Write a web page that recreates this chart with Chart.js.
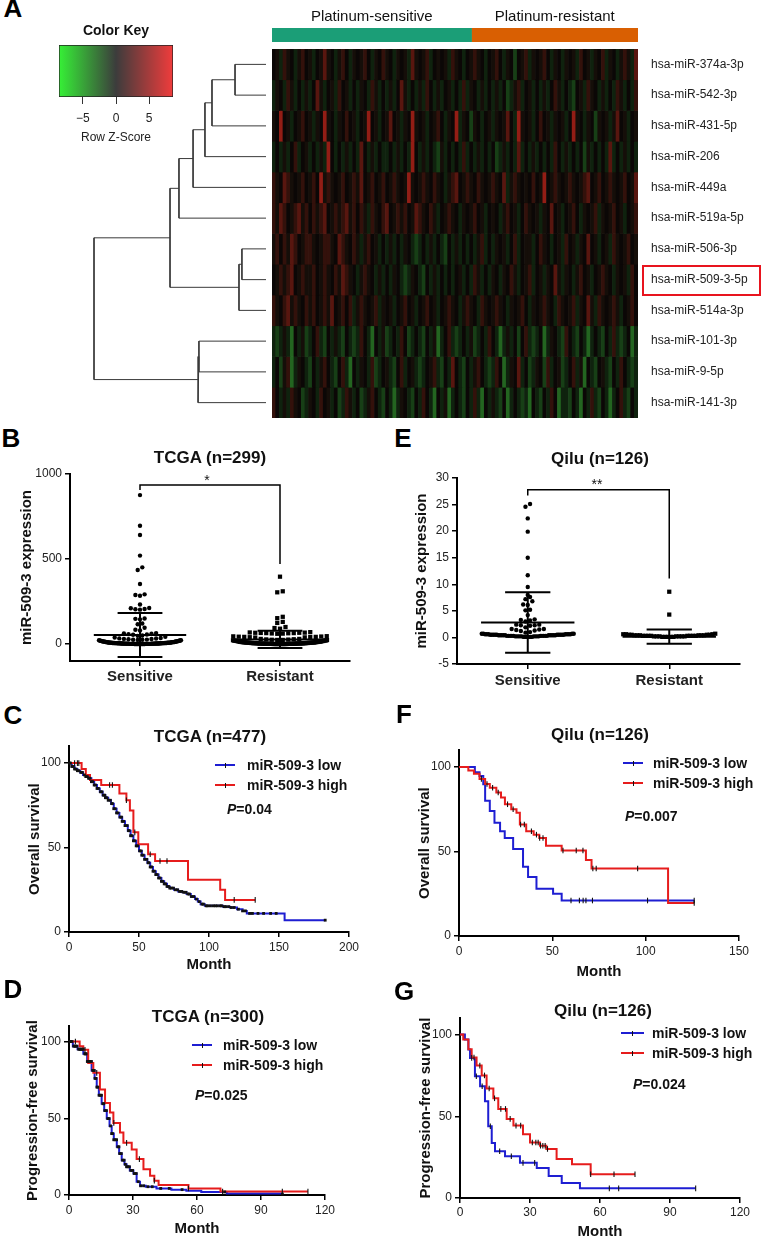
<!DOCTYPE html>
<html>
<head>
<meta charset="utf-8">
<script src="https://cdn.jsdelivr.net/npm/chart.js@4.4.1/dist/chart.umd.min.js"></script>
<style>
  html, body { margin: 0; padding: 0; background: #fff; }
  body { width: 766px; height: 1240px; position: relative; overflow: hidden; font-family: "Liberation Sans", Arial, sans-serif; color: #111; }
  canvas { position: absolute; }
  .t { position: absolute; white-space: nowrap; line-height: 1; }
  .bar { position: absolute; }
</style>
</head>
<body>
<script>
// ---------------- data ----------------

// A: heatmap
const mirnaNames = ['hsa-miR-374a-3p', 'hsa-miR-542-3p', 'hsa-miR-431-5p', 'hsa-miR-206', 'hsa-miR-449a',
  'hsa-miR-519a-5p', 'hsa-miR-506-3p', 'hsa-miR-509-3-5p', 'hsa-miR-514a-3p', 'hsa-miR-101-3p',
  'hsa-miR-9-5p', 'hsa-miR-141-3p'];
const highlightRow = 7;
const sampleGroups = ['Platinum-sensitive', 'Platinum-resistant'];
const groupSizes = [163, 136];
// one letter per sample column (k/0 dark, h/g/G green, r/q/R red)
const heatmapRows = [
  ['k0hr0kh0rk', '0hk0q0kh0r', 'kh0k0rkh0k', 'r0kh0k0hq0', 'k0rhk0k0hr', '0khk0r0khk', '0rkh0kgk0r', 'h0k0rkh0kh', '0k0hrk0h0k', 'rh0kh0r0hq'],
  ['h0khr0hkh0', 'hkq0hk0hrk', '0hkh0khr0h', 'kh0hkq0hkh', '0hrkh0hk0h', 'khrh0kh0hk', 'h0hkgh0rhk', '0hkh0hkr0h', 'khgk0hr0kh', '0hkhr0hkhr'],
  ['0kRk0hk0rk', '0h0kR0kh0k', 'rk0hk0Rk0h', 'k0qk0h0kR0', 'k0hk0rkh0k', 'Rh0kg0khk0', 'h0k0qkhR0k', '0hkrk0h0k0', 'hkR0kh0kg0', 'k0h0qk0hk0'],
  ['hkh0hkrhk0', 'hkh0hRkhkh', '0hkhqkh0hk', 'hhkh0hkhRk', 'h0hkhg0hkh', 'khrhkh0hkh', 'kgh0hkhqhk', 'h0hkhkhrkh', '0hkhkg0hkh', 'khqhkh0hkh'],
  ['r0kqr0k0rk', '0rkR0r0k0r', 'k0r0qk0rk0', 'rk0r0k0R0k', '0r0kr0kh0r', 'qk0r0kr0k0', 'r0kqh0r0k0', 'krk0Rk0r0k', '0r0k0rqk0r', 'k0r0k0rk0q'],
  ['r0qrk0rq0r', 'kr0rqk0r0r', 'q0rkr0hr0k', 'rqk0r0rk0q', 'r0kr0hk0r0', 'kh0k0rk0hk', '0kh0rk0hkr', '0k0h0kqk0h', 'k0rkh0k0rh', '0k0rk0hk0r'],
  ['0rkr0qrk0r', 'r0k0rr0kqr', '0kr0h0rk0h', 'kh0hkh0khg', 'hkh0hkhgkh', '0hkhkh0rhk', 'h0k0hkrhk0', '0hkr0khk0h', 'rk0h0kqk0h', 'k0hr0k0rk0'],
  ['k0r0rqk0r0', '0rk0r0kr0q', 'r0kh0r0kh0', 'hkh0khgh0k', 'hgkh0hkhkh', 'k0hkhr0hkh', '0kh0kr0hk0', 'rhk0h0kq0h', '0kh0rk0hk0', 'r0kh0k0hrk'],
  ['r0krq0r0kr', '0rk0r0qk0r', 'krh0r0k0rh', '0k0hk0rk0h', 'k0rk0hk0r0', 'kh0r0khr0k', '0r0kh0k0rk', 'h0k0r0khr0', 'k0rh0kq0hr', '0k0r0hk0rk'],
  ['hgh0hGkh0g', 'hkrhgkh0hg', 'khghrkhGkh', '0ghkhrkghk', 'hgkh0Ghkrh', 'ghkh0ghkhr', 'khGh0hkgkr', 'hghkGh0khg', 'rkhgkhGhkh', 'gkhrhghkGh'],
  ['hkg0rGh0kh', 'gkh0rkhgkr', 'hGkh0khrgh', 'k0hgkrhk0h', 'ghk0rhgkhq', 'khgkh0rkhg', 'hrkGh0kqhk', 'gh0kgrhk0g', 'hkrh0Gkhgk', '0hgkhrkhgh'],
  ['rkh0hr0kgh', '0khrk0hkgh', 'r0hkgh0rkh', 'gkhGh0khgk', 'hrkhGkh0Gh', 'khgkhrhGkh', '0hgkGhkhgh', 'GkhgkhrkGh', 'hgkhGkhrhg', 'khGhkrhgkh']
].map(r => r.join(''));
// hclust-style merge table (negative = leaf) and merge heights
const dendroMerge = [[-1, -2], [1, -3], [2, -4], [3, -5], [4, -6], [-7, -8], [6, -9], [5, 7], [-10, -11], [9, -12], [8, 10]];
const dendroHeight = [1.8, 3.14, 3.55, 4.24, 5.06, 1.4, 1.57, 5.58, 3.9, 3.95, 10];
const keyLimits = [-8.6, 8.6];
const keyTicks = [-5, 0, 5];

// B / E: expression dot plots
const exprGroups = ['Sensitive', 'Resistant'];
const tcgaSensitive = [876, 696, 641, 520, 451, 435, 353, 292, 288, 284, 232, 212, 210, 206, 204, 202, 150, 148, 145,
  121, 116, 96, 84, 80, 64, 62, 60, 58, 56, 54, 50, 48,
  0, 0, 0, 0, 0, 0, 0, 0, 0, 0, 1, 1, 1, 1, 1, 1, 1, 1, 1, 1, 2, 2, 2, 2, 2, 2, 2, 2, 3, 3,
  3, 3, 3, 3, 3, 4, 4, 4, 4, 4, 5, 5, 5, 5, 6, 6, 6, 6, 7, 7, 7, 8, 8, 8, 9, 9, 10, 10, 11, 11,
  12, 12, 13, 14, 15, 15, 16, 17, 18, 19, 20, 21, 22, 24, 25, 26, 28, 30, 32, 35,
  0, 0, 1, 1, 2, 2, 3, 4, 5, 6, 0, 1, 2, 3, 4, 5, 6, 8, 9, 11, 13, 15, 17, 19, 22, 25, 29, 33, 38, 42];
const tcgaResistant = [396, 310, 304, 160, 152, 130, 124, 100, 94, 90, 70, 68, 67, 66, 66, 65, 64, 64, 63, 62, 61, 60,
  46, 45, 44, 43, 42, 42, 41, 40, 39, 38,
  0, 0, 0, 0, 0, 0, 0, 0, 0, 0, 1, 1, 1, 1, 1, 1, 1, 1, 2, 2, 2, 2, 2, 2, 3, 3, 3, 3, 3, 4,
  4, 4, 4, 5, 5, 5, 5, 6, 6, 6, 7, 7, 8, 8, 9, 9, 10, 10, 11, 12, 12, 13, 14, 15, 16, 17, 18, 19, 20, 21,
  22, 23, 24, 25, 26, 28, 30, 0, 0, 1, 1, 2, 3, 4, 5, 6, 7, 8, 9, 10, 11, 13, 15, 18, 20, 24, 27, 30];
const tcgaMean = [53, 27];
const tcgaSD = [129, 51];
const tcgaBracket = [935, 906, 470]; // bar height, left leg end, right leg end
const qiluSensitive = [25.1, 24.6, 22.4, 19.9, 15.0, 11.7, 9.5, 8.0, 7.6, 7.2, 6.8, 6.2, 6.1, 5.2, 5.1, 4.2, 3.4, 3.3,
  3.2, 3.0, 2.4, 2.4, 2.3, 2.3, 2.2, 1.9, 1.6, 1.6, 1.5, 1.4, 1.3, 1.2, 1.0, 0.9,
  0.1, 0.1, 0.1, 0.1, 0.1, 0.2, 0.2, 0.2, 0.2, 0.2, 0.2, 0.3, 0.3, 0.3, 0.3, 0.3, 0.3, 0.3, 0.4, 0.4,
  0.4, 0.4, 0.4, 0.4, 0.4, 0.5, 0.5, 0.5, 0.5, 0.5, 0.5, 0.5, 0.6, 0.6, 0.6, 0.6, 0.6, 0.6, 0.7, 0.7,
  0.7, 0.7, 0.1, 0.2, 0.3, 0.4, 0.5, 0.6, 0.2, 0.3, 0.4, 0.5, 0.3, 0.4, 0.2, 0.5];
const qiluResistant = [8.6, 4.3, 0.7, 0.1, 0.1, 0.1, 0.1, 0.2, 0.2, 0.2, 0.2, 0.2, 0.3, 0.3, 0.3, 0.3, 0.3, 0.3,
  0.4, 0.4, 0.4, 0.4, 0.4, 0.5, 0.5, 0.5, 0.5, 0.6, 0.6, 0.6, 0.1, 0.2, 0.3, 0.4, 0.2, 0.3];
const qiluMean = [2.8, 0.15];
const qiluSD = [5.7, 1.35];
const qiluBracket = [27.8, 26.7, 11.1];

// C, F, D, G: Kaplan-Meier curves (time in months, survival %), censor times
const survGroups = ['miR-509-3 low', 'miR-509-3 high'];
const cLowT = [0, 2, 4, 6, 8, 10, 12, 14, 16, 18, 20, 22, 24, 26, 28, 30, 32, 34, 36, 38, 40, 42, 44, 46, 48, 50, 52, 54,
  56, 58, 60, 62, 64, 66, 68, 70, 72, 75, 78, 81, 84, 87, 90, 92, 94, 97, 110, 115, 120, 124, 127, 154, 183];
const cLowS = [100, 98, 96.5, 95.5, 94.5, 93, 92, 91, 89, 87, 85, 83, 81, 79.5, 78, 76, 73, 70.5, 68, 65.5, 63, 60, 57,
  54, 51, 48, 45.5, 43, 41, 38.5, 36, 34, 32, 30, 28.5, 27, 26, 25, 24, 23.5, 22.5, 21, 19.5, 18, 16.5, 15.5, 15, 14.5,
  13.5, 12.5, 11, 7, 7];
const cLowCens = [0.5, 1, 2, 3, 4, 5, 6, 7, 8.5, 9.5, 11, 12, 13, 14, 15, 16, 17, 18, 19, 20, 21, 22.5, 23.5, 24.5,
  25.5, 26, 27, 28, 29.5, 30.5, 31, 32, 33, 34, 35, 36.5, 37.5, 38, 39, 40, 41.5, 42.5, 43, 44, 45, 46, 47, 48, 49,
  50.5, 51.5, 52, 53, 54, 55.5, 56.5, 57, 58, 59, 60, 61, 62, 63, 64, 65, 66, 67, 68, 69, 70, 71, 72, 73, 74.5, 76,
  77.5, 79, 80.5, 82, 83.5, 85, 86, 87.5, 89, 91, 93, 95, 96, 98, 99, 101, 103, 104.5, 106, 108, 109, 111, 112, 114,
  116, 118, 121, 124, 126, 129, 131, 135, 139, 144, 148, 183];
const cHighT = [0, 9, 12, 15, 23, 36, 41, 43.5, 46, 49.5, 56.5, 61.5, 85, 108, 111.5, 133];
const cHighS = [100, 96.5, 93, 90, 87, 82, 78, 72, 59, 52, 46, 42, 31, 25, 19, 19];
const cHighCens = [4, 6, 7, 29, 31, 41, 47, 58, 65, 70, 118, 133];

const fLowT = [0, 8.5, 11, 13, 14, 16.5, 19, 22, 24.5, 29, 34.3, 37, 41.5, 50.4, 55, 126];
const fLowS = [100, 97, 94.7, 89.8, 80, 74, 67, 62, 58, 51.5, 41, 35, 28, 25, 21, 21];
const fLowCens = [60, 64.5, 66.5, 68, 71.5, 101, 126];
const fHighT = [0, 5, 8, 11, 14, 16.5, 20, 22.5, 24.6, 28, 30.8, 32.6, 36, 40, 43, 46.6, 55, 68, 71, 112, 126];
const fHighS = [100, 98, 96, 93, 90, 87.8, 85, 82, 78, 75, 73, 66, 62, 60, 58, 53.5, 50.6, 45, 40, 19.5, 19.5];
const fHighCens = [12, 15, 18, 21, 26, 29, 33, 35, 38.8, 41.5, 43.2, 45, 55.7, 62.8, 66.4, 71.7, 73.5, 95.7, 126];

const dLowT = [0, 1.8, 4, 6.7, 8.5, 10.6, 12, 13, 14, 15.3, 16.5, 17.7, 19, 20, 21, 22.4, 23.5, 24.7, 26, 27, 28.5,
  30.2, 31.7, 33.3, 36, 41, 48, 55, 62, 74, 100];
const dLowS = [100, 97, 95, 92, 87, 81.2, 76, 70.3, 65, 59.5, 55, 49.8, 45, 40, 36, 31.4, 27, 22.7, 20, 18.4, 16, 14,
  8.7, 6, 5.4, 4.3, 3.5, 2.8, 2, 1, 0.6];
const dLowCens = [0.5, 0.8, 1.4, 2.2, 2.7, 3.1, 3.7, 4.5, 5.0, 5.3, 5.8, 6.1, 6.6, 7.4, 7.7, 8.0, 8.6, 9.2, 9.6, 9.9,
  10.5, 11.1, 11.5, 11.8, 12.2, 12.6, 13.1, 13.5, 14.1, 14.7, 15.2, 15.9, 16.3, 16.8, 17.5, 18.2, 18.8, 19.5, 20.0,
  20.4, 21.0, 21.6, 22.3, 22.9, 23.4, 23.8, 24.5, 25.1, 25.8, 26.4, 27.0, 27.6, 28.3, 29.0, 29.8, 30.6, 31.5, 32.5,
  33.6, 35.0, 37, 39, 43, 47, 53, 73, 100];
const dHighT = [0, 5, 6.7, 9, 11.4, 14.5, 16.9, 19.2, 20.8, 23.9, 25.5, 29.4, 31.7, 34.9, 38, 40, 42, 56, 71, 112];
const dHighS = [100, 97, 94.7, 86, 79.6, 68.8, 60, 53.7, 47, 40.7, 34, 29.7, 23.4, 16.8, 12.5, 9.3, 6.5, 4.3, 2.2, 2.2];
const dHighCens = [3, 7.5, 13, 21, 27, 33, 40, 56, 72, 100, 112];

const gLowT = [0, 2.1, 3.6, 4.3, 6.4, 8.6, 10.7, 12.1, 13.6, 15, 19.3, 25.7, 32.9, 38, 43.6, 51.4, 101];
const gLowS = [100, 97, 90.8, 85.7, 74.5, 68.4, 59.2, 43.9, 33.7, 28.6, 25.5, 21.5, 18.4, 13.5, 9.2, 5.9, 5.9];
const gLowCens = [5, 7, 9.5, 13, 17, 22, 27, 32, 64, 68, 101];
const gHighT = [0, 1.4, 3.6, 5, 7.1, 9.3, 11.4, 14.3, 16.4, 20, 22.9, 27, 30, 34.3, 37, 41.4, 48, 56, 75];
const gHighS = [100, 97, 91, 86, 81, 75, 67, 61, 54.5, 48.4, 44.3, 39, 34, 32, 30, 23.8, 20.7, 14.5, 14.5];
const gHighCens = [6, 8.5, 10.5, 12.5, 14.8, 17.5, 19.5, 21.5, 24, 26, 31, 32.5, 33.5, 34.5, 35.5, 36.5, 37.5, 56, 66, 75];

// ---------------- styles ----------------
const FONT = '"Liberation Sans", Arial, sans-serif';
Chart.defaults.font.family = FONT;
Chart.defaults.color = '#222';
const heatColors = { k: '#0b0706', '0': '#150e09', h: '#0f220e', g: '#173f16', G: '#236520', r: '#33110b', q: '#58160f', R: '#931d15' };
const keyColors = ['#36f036', '#3c3c3c', '#f03c3c'];
const groupColors = ['#1b9e77', '#d95f02'];
const lowColor = '#1e1ed2';
const highColor = '#e61c1c';
// censor marks: sparse ones are thin ticks, the crowded low-expression groups merge into a heavy band
const tickMark = { style: 'line', r: 2.8, rot: 90 };
const denseMark = { style: 'rect', r: 2, rot: 0 };

const basePlugins = { legend: { display: false }, tooltip: { enabled: false } };
const base = { responsive: false, animation: false, devicePixelRatio: 1, events: [] };

function addCanvas(x, y, w, h) {
  const c = document.createElement('canvas');
  c.width = w; c.height = h;
  c.style.left = x + 'px'; c.style.top = y + 'px';
  c.style.width = w + 'px'; c.style.height = h + 'px';
  document.body.appendChild(c);
  return c;
}

function txt(html, x, y, css, align) {
  const d = document.createElement('div');
  d.className = 't';
  d.innerHTML = html;
  d.style.cssText += css;
  d.style.left = x + 'px';
  d.style.top = y + 'px';
  d.style.transform = align === 'left' ? 'translate(0,-50%)' : 'translate(-50%,-50%)';
  document.body.appendChild(d);
}

function rect(x, y, w, h, css) {
  const d = document.createElement('div');
  d.className = 'bar';
  d.style.cssText += `left:${x}px;top:${y}px;width:${w}px;height:${h}px;` + css;
  document.body.appendChild(d);
}

// GraphPad-like axis: outside ticks, black frame lines
function axis(o) {
  return {
    type: 'linear', min: o.min, max: o.max, position: o.position,
    afterBuildTicks: s => { s.ticks = o.ticks.map(v => ({ value: v })); },
    afterFit: s => { if (o.horizontal) s.height = o.size; else s.width = o.size; },
    grid: { drawOnChartArea: false, drawTicks: true, tickLength: 5, color: '#000', lineWidth: 1.5 },
    border: { color: '#000', width: 2 },
    ticks: { padding: o.pad, font: o.font || { size: 12 }, color: '#222', autoSkip: false, maxRotation: 0,
      callback: o.cb || (v => v) },
    title: o.title ? { display: true, text: o.title, font: { size: 15, weight: 'bold' }, color: '#111', padding: o.titlePad }
                   : { display: false }
  };
}

// ---------------- A: colour key ----------------
new Chart(addCanvas(40, 20, 160, 130), {
  type: 'bar',
  data: { labels: [''], datasets: [{
    data: [keyLimits],
    backgroundColor: c => {
      const a = c.chart.chartArea;
      if (!a) return keyColors[1];
      const g = c.chart.ctx.createLinearGradient(a.left, 0, a.right, 0);
      keyColors.forEach((col, i) => g.addColorStop(i / (keyColors.length - 1), col));
      return g;
    },
    borderColor: '#222', borderWidth: 1, borderSkipped: false, barPercentage: 1, categoryPercentage: 1
  }] },
  options: { ...base, indexAxis: 'y',
    layout: { padding: { left: 19, right: 27, top: 0, bottom: 0 } },
    plugins: { ...basePlugins, title: { display: true, text: 'Color Key', fullSize: false,
      font: { size: 14, weight: 'bold' }, color: '#111', padding: { top: 2.6, bottom: 5.6 } } },
    scales: {
      y: { display: false },
      x: { type: 'linear', min: keyLimits[0], max: keyLimits[1],
        afterBuildTicks: s => { s.ticks = keyTicks.map(v => ({ value: v })); },
        afterFit: s => { s.height = 53; },
        border: { display: false },
        grid: { drawOnChartArea: false, tickLength: 7, color: '#333' },
        ticks: { padding: 7, font: { size: 12 }, color: '#222', callback: v => v < 0 ? '\u2212' + (-v) : String(v) },
        title: { display: true, text: 'Row Z-Score', font: { size: 12 }, color: '#222', padding: { top: 0, bottom: 4.8 } } }
    } }
});

// ---------------- A: column annotation bar ----------------
const totalSamples = groupSizes.reduce((a, b) => a + b, 0);
const groupCenters = groupSizes.map((n, i) => groupSizes.slice(0, i).reduce((a, b) => a + b, 0) + n / 2);
new Chart(addCanvas(272, 0, 366, 42), {
  type: 'bar',
  data: { labels: [''], datasets: sampleGroups.map((g, i) => ({
    label: g, data: [groupSizes[i]], backgroundColor: groupColors[i], borderWidth: 0, barPercentage: 1, categoryPercentage: 1 })) },
  options: { ...base, indexAxis: 'y', layout: { padding: 0 }, plugins: basePlugins,
    scales: {
      y: { display: false, stacked: true },
      x: { type: 'linear', stacked: true, position: 'top', min: 0, max: totalSamples,
        afterBuildTicks: s => { s.ticks = groupCenters.map(v => ({ value: v })); },
        afterFit: s => { s.height = 28; s.paddingLeft = 0; s.paddingRight = 0; },
        border: { display: false }, grid: { display: false },
        ticks: { padding: -6, font: { size: 15 }, color: '#111', autoSkip: false, maxRotation: 0, callback: (v, i) => sampleGroups[i] } }
    } }
});

// ---------------- A: heatmap ----------------
const nCols = Math.max(...heatmapRows.map(r => r.length));
new Chart(addCanvas(272, 49, 494, 369), {
  type: 'bar',
  data: {
    labels: [...Array(nCols).keys()],
    datasets: heatmapRows.map((row, r) => ({
      data: [...row].map(() => [r, r + 1]),
      backgroundColor: [...row].map(ch => heatColors[ch]),
      borderWidth: 0, grouped: false, barPercentage: 1, categoryPercentage: 1
    }))
  },
  options: { ...base, layout: { padding: 0 }, plugins: basePlugins,
    scales: {
      x: { display: false },
      y: { type: 'linear', position: 'right', reverse: true, min: 0, max: mirnaNames.length,
        afterBuildTicks: s => { s.ticks = mirnaNames.map((_, i) => ({ value: i + 0.5 })); },
        afterFit: s => { s.width = 128; s.paddingTop = 0; s.paddingBottom = 0; },
        border: { display: false }, grid: { display: false },
        ticks: { padding: 5, font: { size: 12 }, color: '#222', autoSkip: false, callback: v => mirnaNames[Math.floor(v)] } }
    } }
});

// ---------------- A: dendrogram ----------------
const nodeY = [], nodeH = [], dendroSegments = [];
function nodePos(id) { return id < 0 ? { y: -id - 0.5, h: 0 } : { y: nodeY[id - 1], h: nodeH[id - 1] }; }
dendroMerge.forEach(([a, b], i) => {
  const pa = nodePos(a), pb = nodePos(b), h = dendroHeight[i];
  dendroSegments.push({ x: pa.h, y: pa.y }, { x: h, y: pa.y }, { x: h, y: pb.y }, { x: pb.h, y: pb.y }, { x: null, y: null });
  nodeY.push((pa.y + pb.y) / 2); nodeH.push(h);
});
new Chart(addCanvas(80, 49, 192, 369), {
  type: 'line',
  data: { datasets: [{ data: dendroSegments, borderColor: '#3a3a3a', borderWidth: 1, pointRadius: 0, spanGaps: false, clip: false }] },
  options: { ...base, plugins: basePlugins, layout: { padding: { left: 14, right: 6, top: 0, bottom: 0 } },
    scales: {
      x: { type: 'linear', display: false, reverse: true, min: 0, max: Math.max(...dendroHeight) },
      y: { type: 'linear', display: false, reverse: true, min: 0, max: mirnaNames.length }
    } }
});

// ---------------- B / E: dot plots ----------------
// beeswarm: points of similar value share a row and are spread sideways from the centre
function swarm(values, center, halfW, gap, pxX, pxY, rowPx) {
  const v = values.slice().sort((a, b) => a - b), out = [];
  let i = 0;
  while (i < v.length) {
    let j = i;
    while (j < v.length && (v[j] - v[i]) * pxY < rowPx) j++;
    const n = j - i;
    const step = n > 1 ? Math.min(gap, 2 * halfW / (n - 1)) : 0;
    const offs = [...Array(n).keys()].map(k => (k - (n - 1) / 2) * step).sort((a, b) => Math.abs(a) - Math.abs(b));
    for (let k = 0; k < n; k++) out.push({ x: center + offs[k] / pxX, y: v[i + k] });
    i = j;
  }
  return out;
}

function dotPlot(L, cfg) {
  const [bx, by, bw, bh] = L.box, [al, at, ar, ab] = L.area;
  const pxX = (ar - al) / 2, pxY = (ab - at) / (cfg.yMax - cfg.yMin);
  const pts = cfg.values.map((vals, g) => swarm(vals, g, L.spread[g], L.gap[g], pxX, pxY, 4));
  const stats = [];
  cfg.mean.forEach((m, g) => {
    const sd = cfg.sd[g], N = { x: null, y: null };
    stats.push({ x: g - 0.33, y: m }, { x: g + 0.33, y: m }, N,
      { x: g, y: m - sd }, { x: g, y: m + sd }, N,
      { x: g - 0.16, y: m + sd }, { x: g + 0.16, y: m + sd }, N,
      { x: g - 0.16, y: m - sd }, { x: g + 0.16, y: m - sd }, N);
  });
  const [top, leftEnd, rightEnd] = cfg.bracket;
  new Chart(addCanvas(bx, by, bw, bh), {
    type: 'line',
    data: { datasets: [
      { data: pts[0], showLine: false, pointStyle: 'circle', pointRadius: 2.2, pointBackgroundColor: '#000', pointBorderWidth: 0, order: 1 },
      { data: pts[1], showLine: false, pointStyle: 'rect', pointRadius: 3, pointBackgroundColor: '#000', pointBorderWidth: 0, order: 1 },
      { data: stats, borderColor: '#000', borderWidth: 2, pointRadius: 0, spanGaps: false, order: 0 },
      { data: [{ x: 0, y: leftEnd }, { x: 0, y: top }, { x: 1, y: top }, { x: 1, y: rightEnd }],
        borderColor: '#000', borderWidth: 1.5, pointRadius: 0, order: 0, clip: false }
    ] },
    options: { ...base, plugins: basePlugins,
      layout: { padding: { left: 0, top: at - by, right: bx + bw - ar, bottom: 0 } },
      scales: {
        x: axis({ min: -0.5, max: 1.5, ticks: [0, 1], horizontal: true, size: by + bh - ab, pad: L.xPad,
          font: { size: 15, weight: 'bold' }, cb: v => exprGroups[Math.round(v)] }),
        y: axis({ min: cfg.yMin, max: cfg.yMax, ticks: cfg.yTicks, size: al - bx, pad: 3,
          title: 'miR-509-3 expression', titlePad: { top: L.yTitlePad, bottom: 0 } })
      } }
  });
}

dotPlot({ box: [0, 460, 380, 240], area: [70, 474, 350, 661], spread: [41, 47], gap: [4.6, 5.5], xPad: 2, yTitlePad: 18 },
  { values: [tcgaSensitive, tcgaResistant], mean: tcgaMean, sd: tcgaSD, bracket: tcgaBracket,
    yMin: -100, yMax: 1000, yTicks: [0, 500, 1000] });
dotPlot({ box: [390, 464, 376, 236], area: [457, 478, 740, 664], spread: [46, 46], gap: [4.6, 5.5], xPad: 3, yTitlePad: 23 },
  { values: [qiluSensitive, qiluResistant], mean: qiluMean, sd: qiluSD, bracket: qiluBracket,
    yMin: -5, yMax: 30, yTicks: [-5, 0, 5, 10, 15, 20, 25, 30] });

// ---------------- C, F, D, G: survival ----------------
function survAt(t, s, x) {
  let v = s[0];
  for (let i = 0; i < t.length; i++) if (t[i] <= x) v = s[i];
  return v;
}

function survivalChart(L, cfg) {
  const [bx, by, bw, bh] = L.box, [al, at, ar, ab] = L.area;
  const ds = [];
  cfg.curves.forEach((c, i) => {
    const m = c.mark || tickMark;
    ds.push({ data: c.t.map((t, k) => ({ x: t, y: c.s[k] })), stepped: 'before', borderColor: c.color,
      borderWidth: 2, pointRadius: 0, order: 2 - i, clip: false });
    ds.push({ data: c.cens.map(t => ({ x: t, y: survAt(c.t, c.s, t) })), showLine: false, pointStyle: m.style,
      pointRotation: m.rot, pointRadius: m.r, pointBorderColor: '#111', pointBackgroundColor: '#111',
      pointBorderWidth: m.style === 'line' ? 1.1 : 0, order: 0, clip: false });
  });
  new Chart(addCanvas(bx, by, bw, bh), {
    type: 'line',
    data: { datasets: ds },
    options: { ...base, plugins: basePlugins,
      layout: { padding: { left: 0, top: at - by, right: bx + bw - ar, bottom: 0 } },
      scales: {
        x: axis({ min: 0, max: cfg.xMax, ticks: cfg.xTicks, horizontal: true, size: by + bh - ab, pad: L.xPad,
          title: 'Month', titlePad: { top: 0, bottom: L.xTitlePad } }),
        y: axis({ min: 0, max: 110, ticks: [0, 50, 100], size: al - bx, pad: 3,
          title: cfg.yTitle, titlePad: { top: L.yTitlePad, bottom: 0 } })
      } }
  });
}

survivalChart({ box: [0, 736, 380, 239], area: [69, 746, 349, 932], xPad: 3, xTitlePad: 1, yTitlePad: 26 },
  { xMax: 200, xTicks: [0, 50, 100, 150, 200], yTitle: 'Overall survival', curves: [
    { t: cLowT, s: cLowS, cens: cLowCens, color: lowColor, mark: denseMark },
    { t: cHighT, s: cHighS, cens: cHighCens, color: highColor }] });
survivalChart({ box: [390, 740, 376, 241], area: [459, 750, 739, 936], xPad: 3, xTitlePad: 0, yTitlePad: 26 },
  { xMax: 150, xTicks: [0, 50, 100, 150], yTitle: 'Overall survival', curves: [
    { t: fLowT, s: fLowS, cens: fLowCens, color: lowColor },
    { t: fHighT, s: fHighS, cens: fHighCens, color: highColor }] });
survivalChart({ box: [0, 1016, 380, 224], area: [69, 1026, 325, 1195], xPad: 3, xTitlePad: 2, yTitlePad: 24 },
  { xMax: 120, xTicks: [0, 30, 60, 90, 120], yTitle: 'Progression-free survival', curves: [
    { t: dLowT, s: dLowS, cens: dLowCens, color: lowColor, mark: denseMark },
    { t: dHighT, s: dHighS, cens: dHighCens, color: highColor }] });
survivalChart({ box: [390, 1008, 376, 234], area: [460, 1018, 740, 1198], xPad: 2, xTitlePad: 1, yTitlePad: 27 },
  { xMax: 120, xTicks: [0, 30, 60, 90, 120], yTitle: 'Progression-free survival', curves: [
    { t: gLowT, s: gLowS, cens: gLowCens, color: lowColor },
    { t: gHighT, s: gHighS, cens: gHighCens, color: highColor }] });

// ---------------- text overlays ----------------
const letterCss = 'font-size:26px;font-weight:bold;color:#000;';
[['A', 13, 8], ['B', 11, 438], ['E', 403, 437.5], ['C', 13, 715], ['F', 404, 714], ['D', 13, 988.5], ['G', 404, 991]]
  .forEach(([s, x, y]) => txt(s, x, y, letterCss));

const titleCss = 'font-size:17px;font-weight:bold;color:#111;';
txt('TCGA (n=299)', 210, 457, titleCss);
txt('Qilu (n=126)', 600, 458, titleCss);
txt('TCGA (n=477)', 210, 736, titleCss);
txt('Qilu (n=126)', 600, 734, titleCss);
txt('TCGA (n=300)', 208, 1016, titleCss);
txt('Qilu (n=126)', 603, 1010, titleCss);

txt('*', 207, 480, 'font-size:14px;color:#111;');
txt('**', 597, 484, 'font-size:14px;color:#111;');

// highlight box around hsa-miR-509-3-5p
rect(642, 49 + highlightRow * 30.75 + 1, 119, 31, 'box-sizing:border-box;border:2px solid #e8141e;');

// legends + p values
function legend(x, y0, len, textX, pText, px, py) {
  [lowColor, highColor].forEach((col, i) => {
    const y = y0 + i * 20;
    rect(x, y - 1, len, 2, 'background:' + col + ';');
    rect(x + len / 2 - 0.5, y - 2.5, 1, 5, 'background:#111;');
    txt(survGroups[i], textX, y, 'font-size:14px;font-weight:bold;color:#111;', 'left');
  });
  txt('<i>P</i>=' + pText, px, py, 'font-size:14px;font-weight:bold;color:#111;', 'left');
}
const pValues = ['0.04', '0.007', '0.025', '0.024'];
legend(215, 765, 20, 247, pValues[0], 227, 809);
legend(623, 763, 20, 653, pValues[1], 625, 816);
legend(192, 1045, 20, 223, pValues[2], 195, 1095);
legend(621, 1033, 23, 652, pValues[3], 633, 1084);
</script>
</body>
</html>
